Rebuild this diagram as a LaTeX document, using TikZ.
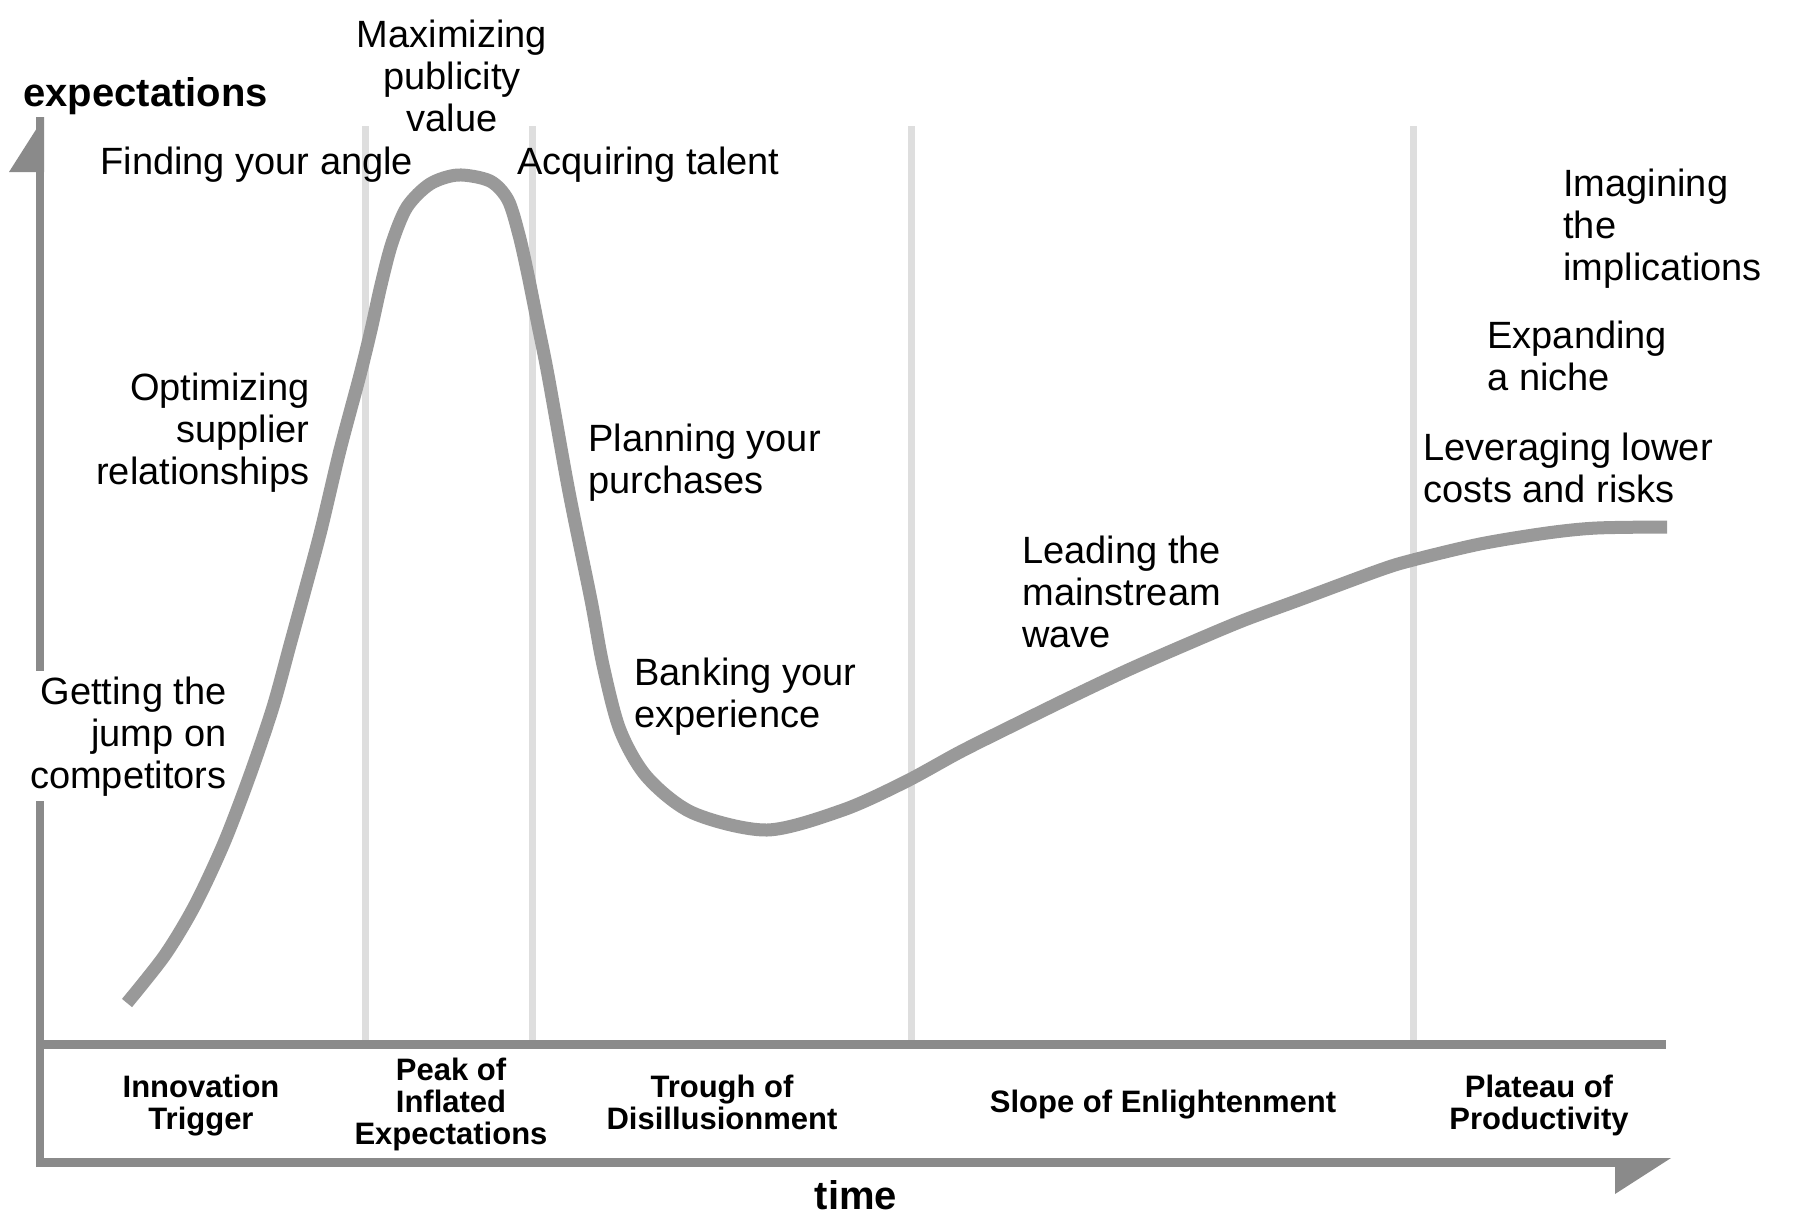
\documentclass[tikz,border=0pt]{standalone}
\usepackage{fontspec}
\setmainfont{Liberation Sans}
\definecolor{gridgray}{HTML}{DEDEDE}
\definecolor{axisgray}{HTML}{8A8A8A}
\definecolor{curvegray}{HTML}{999999}
\begin{document}
\begin{tikzpicture}[x=0.5pt,y=-0.5pt,
  every node/.style={inner sep=0pt, text=black},
  lbl/.style={font=\fontsize{19}{21}\selectfont},
  phase/.style={font=\bfseries\fontsize{15.5}{16}\selectfont, align=center, anchor=base},
  axislbl/.style={font=\bfseries\fontsize{20}{22}\selectfont},
  gridline/.style={draw=gridgray, line width=3.5pt},
  axisline/.style={draw=axisgray, line width=4.5pt},
  hype/.style={draw=curvegray, line width=6.5pt}]
\useasboundingbox[fill=white] (0,0) rectangle (1793,1226);

% phase separators
\foreach \x in {365,532,911,1413} \draw[gridline] (\x,126) -- (\x,1043);

% axes
\coordinate (ytip) at (44,117);
\coordinate (xtip) at (1671,1158);
\draw[axisline, line width=4pt] (40,1167) -- (40,117);
\fill[axisgray] (ytip) -- (44,172) -- (9,172) -- cycle;
\draw[axisline] (36,1044) -- (1666,1044);
\draw[axisline] (36,1162) -- (1620,1162);
\fill[axisgray] (1615,1158) -- (xtip) -- (1615,1194) -- cycle;

% hype curve
\draw[hype] plot[smooth, tension=0.5] coordinates {
 (127,1003) (165,955) (195,905) (224,843) (250,775) (273,707) (290,645)
 (305,590) (321,530) (340,450) (360,375) (371,330) (381,285) (392,243)
 (407,207) (430,184) (458,175) (490,181) (508,200) (519,235) (528,275)
 (538,325) (548,375) (569,492) (591,600) (603,665) (620,730) (647,777)
 (693,813) (767,830) (843,810) (905,782) (960,752) (1014,725) (1071,697)
 (1128,670) (1185,645) (1242,621) (1299,600) (1380,570) (1413,560)
 (1480,544) (1547,533) (1597,528) (1667,527)};

% curve labels (multi-line nodes are anchored at the baseline of their last line)
\node[lbl, align=center, anchor=base] (maxpub) at (452,131) {Maximizing\\publicity\\value};
\node[lbl, anchor=base west] (finding) at (100,174) {Finding your angle};
\node[lbl, anchor=base west] (acquiring) at (517,174) {Acquiring talent};
\node[lbl, align=right, anchor=base east] (optimizing) at (310,484) {Optimizing\\supplier\\relationships};
\node[lbl, align=left, anchor=base west] (planning) at (588,493) {Planning your\\purchases};
\node[lbl, align=left, anchor=base west] (imagining) at (1563,280) {Imagining\\the\\implications};
\node[lbl, align=left, anchor=base west] (expanding) at (1487,390) {Expanding\\a niche};
\node[lbl, align=left, anchor=base west] (leveraging) at (1423,502) {Leveraging lower\\costs and risks};
\node[lbl, align=left, anchor=base west] (leading) at (1022,647) {Leading the\\mainstream\\wave};
\node[lbl, align=right, anchor=base east, fill=white, inner sep=2.5pt] (getting) at (232,788) {Getting the\\jump on\\competitors};
\node[lbl, align=left, anchor=base west] (banking) at (634,727) {Banking your\\experience};

% axis labels
\node[axislbl, anchor=base west] (expect) at (23,106) {expectations};
\node[axislbl, anchor=base] (time) at (856,1209) {time};

% phase labels
\node[phase] (innov) at (201,1129) {Innovation\\Trigger};
\node[phase] (peak) at (451,1144) {Peak of\\Inflated\\Expectations};
\node[phase] (trough) at (722,1129) {Trough of\\Disillusionment};
\node[phase] (slope) at (1163,1112) {Slope of Enlightenment};
\node[phase] (plateau) at (1539,1129) {Plateau of\\Productivity};
\end{tikzpicture}
\end{document}
